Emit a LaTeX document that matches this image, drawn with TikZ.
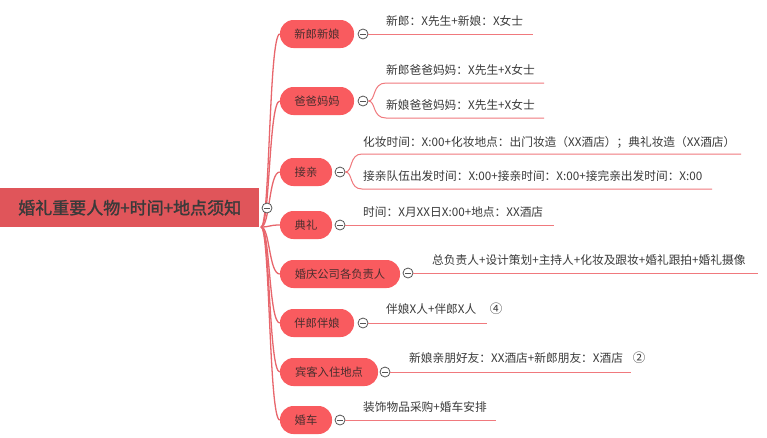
\documentclass[tikz,border=0pt]{standalone}
\usepackage{fontspec}
\usetikzlibrary{calc}
\setmainfont{Noto Sans CJK SC}
\newfontfamily\cjkbold[FakeBold=1.5]{Noto Sans CJK SC}
\definecolor{rootfill}{HTML}{E0555A}
\definecolor{nodefill}{HTML}{F95B5F}
\definecolor{branchline}{HTML}{E8666C}
\definecolor{leafline}{HTML}{F0797D}
\definecolor{txt}{HTML}{3A3A3A}
\definecolor{ntxt}{HTML}{4A2E2E}
\definecolor{circ}{HTML}{555555}
\tikzset{
  rootbox/.style={fill=rootfill, minimum width=259pt, minimum height=39pt, inner sep=0pt,
    text=txt, font=\cjkbold\fontsize{17}{20}\selectfont},
  branch/.style={fill=nodefill, rounded corners=13.5pt, minimum height=28pt, inner sep=0pt,
    text=ntxt, font=\fontsize{11.3}{13}\selectfont},
  leaf/.style={anchor=west, inner sep=0pt, text=txt, font=\fontsize{11.7}{13}\selectfont},
  collapse/.style={circle, draw=circ, line width=0.8pt, fill=white, minimum size=10pt, inner sep=0pt,
    path picture={\draw[circ, line width=0.8pt] ([xshift=-2.8pt]path picture bounding box.center) -- ([xshift=2.8pt]path picture bounding box.center);}},
  bline/.style={draw=branchline, line width=1.3pt},
  lline/.style={draw=leafline, line width=1pt},
  marknum/.style={inner sep=0pt, text=txt, font=\fontsize{12.5}{13}\selectfont},
}
\begin{document}
\begin{tikzpicture}[x=1pt,y=-1pt]
\useasboundingbox (0,0) rectangle (767,437);
\fill[white] (0,0) rectangle (767,437);

% root
\node[rootbox, anchor=north west] (root) at (0,188) {婚礼重要人物+时间+地点须知};
\coordinate (rs) at (261,227);

% branches
\node[branch, minimum width=74pt] (b1) at (317,34) {新郎新娘};
\node[branch, minimum width=74pt] (b2) at (317,101) {爸爸妈妈};
\node[branch, minimum width=52pt] (b3) at (306,172) {接亲};
\node[branch, minimum width=52pt] (b4) at (306,225) {典礼};
\node[branch, minimum width=120pt] (b5) at (340,274) {婚庆公司各负责人};
\node[branch, minimum width=74pt] (b6) at (317,323) {伴郎伴娘};
\node[branch, minimum width=98pt] (b7) at (329,372) {宾客入住地点};
\node[branch, minimum width=52pt] (b8) at (306,420) {婚车};

% root connectors
\foreach \b in {b1,b2,b3,b4,b5,b6,b7,b8}{
  \draw[bline] (rs) .. controls ($(rs)+(9,0)$) and ($(\b.west)+(-11,0)$) .. (\b.west);
}

% root collapse
\node[collapse] (c0) at (267,208) {};

% leaf end coordinates
\coordinate (e1) at (533,34);
\coordinate (e2a) at (544,83);
\coordinate (e2b) at (544,118);
\coordinate (e3a) at (741,154);
\coordinate (e3b) at (712,189);
\coordinate (e4) at (554,225);
\coordinate (e5) at (758,273);
\coordinate (e6) at (487,323);
\coordinate (e7) at (631,372);
\coordinate (e8) at (496,420);
\coordinate (k2a) at (386,83);
\coordinate (k2b) at (386,118);
\coordinate (k3a) at (362,154);
\coordinate (k3b) at (362,189);

% collapse circles of branches
\node[collapse] (c1) at (363,34) {};
\node[collapse] (c2) at (363,101) {};
\node[collapse] (c3) at (340,172) {};
\node[collapse] (c4) at (340,225) {};
\node[collapse] (c5) at (408,273) {};
\node[collapse] (c6) at (363,323) {};
\node[collapse] (c7) at (385,372) {};
\node[collapse] (c8) at (340,420) {};

% leaf connectors
\draw[lline] (c1.east) -- (e1);
\draw[lline] (c2.east) .. controls (376,101) and (372,83) .. (k2a) -- (e2a);
\draw[lline] (c2.east) .. controls (376,101) and (372,118) .. (k2b) -- (e2b);
\draw[lline] (c3.east) .. controls (353,172) and (349,154) .. (k3a) -- (e3a);
\draw[lline] (c3.east) .. controls (353,172) and (349,189) .. (k3b) -- (e3b);
\draw[lline] (c4.east) -- (e4);
\draw[lline] (c5.east) -- (e5);
\draw[lline] (c6.east) -- (e6);
\draw[lline] (c7.east) -- (e7);
\draw[lline] (c8.east) -- (e8);

% leaf texts
\node[leaf] (l1) at (386,21) {新郎：X先生+新娘：X女士};
\node[leaf] (l2a) at (386,70) {新郎爸爸妈妈：X先生+X女士};
\node[leaf] (l2b) at (386,105) {新娘爸爸妈妈：X先生+X女士};
\node[leaf] (l3a) at (363,142) {化妆时间：X:00+化妆地点：出门妆造（XX酒店）；典礼妆造（XX酒店）};
\node[leaf] (l3b) at (363,176) {接亲队伍出发时间：X:00+接亲时间：X:00+接完亲出发时间：X:00};
\node[leaf] (l4) at (363,212) {时间：X月XX日X:00+地点：XX酒店};
\node[leaf] (l5) at (432,260) {总负责人+设计策划+主持人+化妆及跟妆+婚礼跟拍+婚礼摄像};
\node[leaf] (l6) at (386,309) {伴娘X人+伴郎X人};
\node[leaf] (l7) at (409,358) {新娘亲朋好友：XX酒店+新郎朋友：X酒店};
\node[leaf] (l8) at (363,407) {装饰物品采购+婚车安排};
\node[marknum] (m6) at (496,309) {④};
\node[marknum] (m7) at (639,358) {②};
\end{tikzpicture}
\end{document}
